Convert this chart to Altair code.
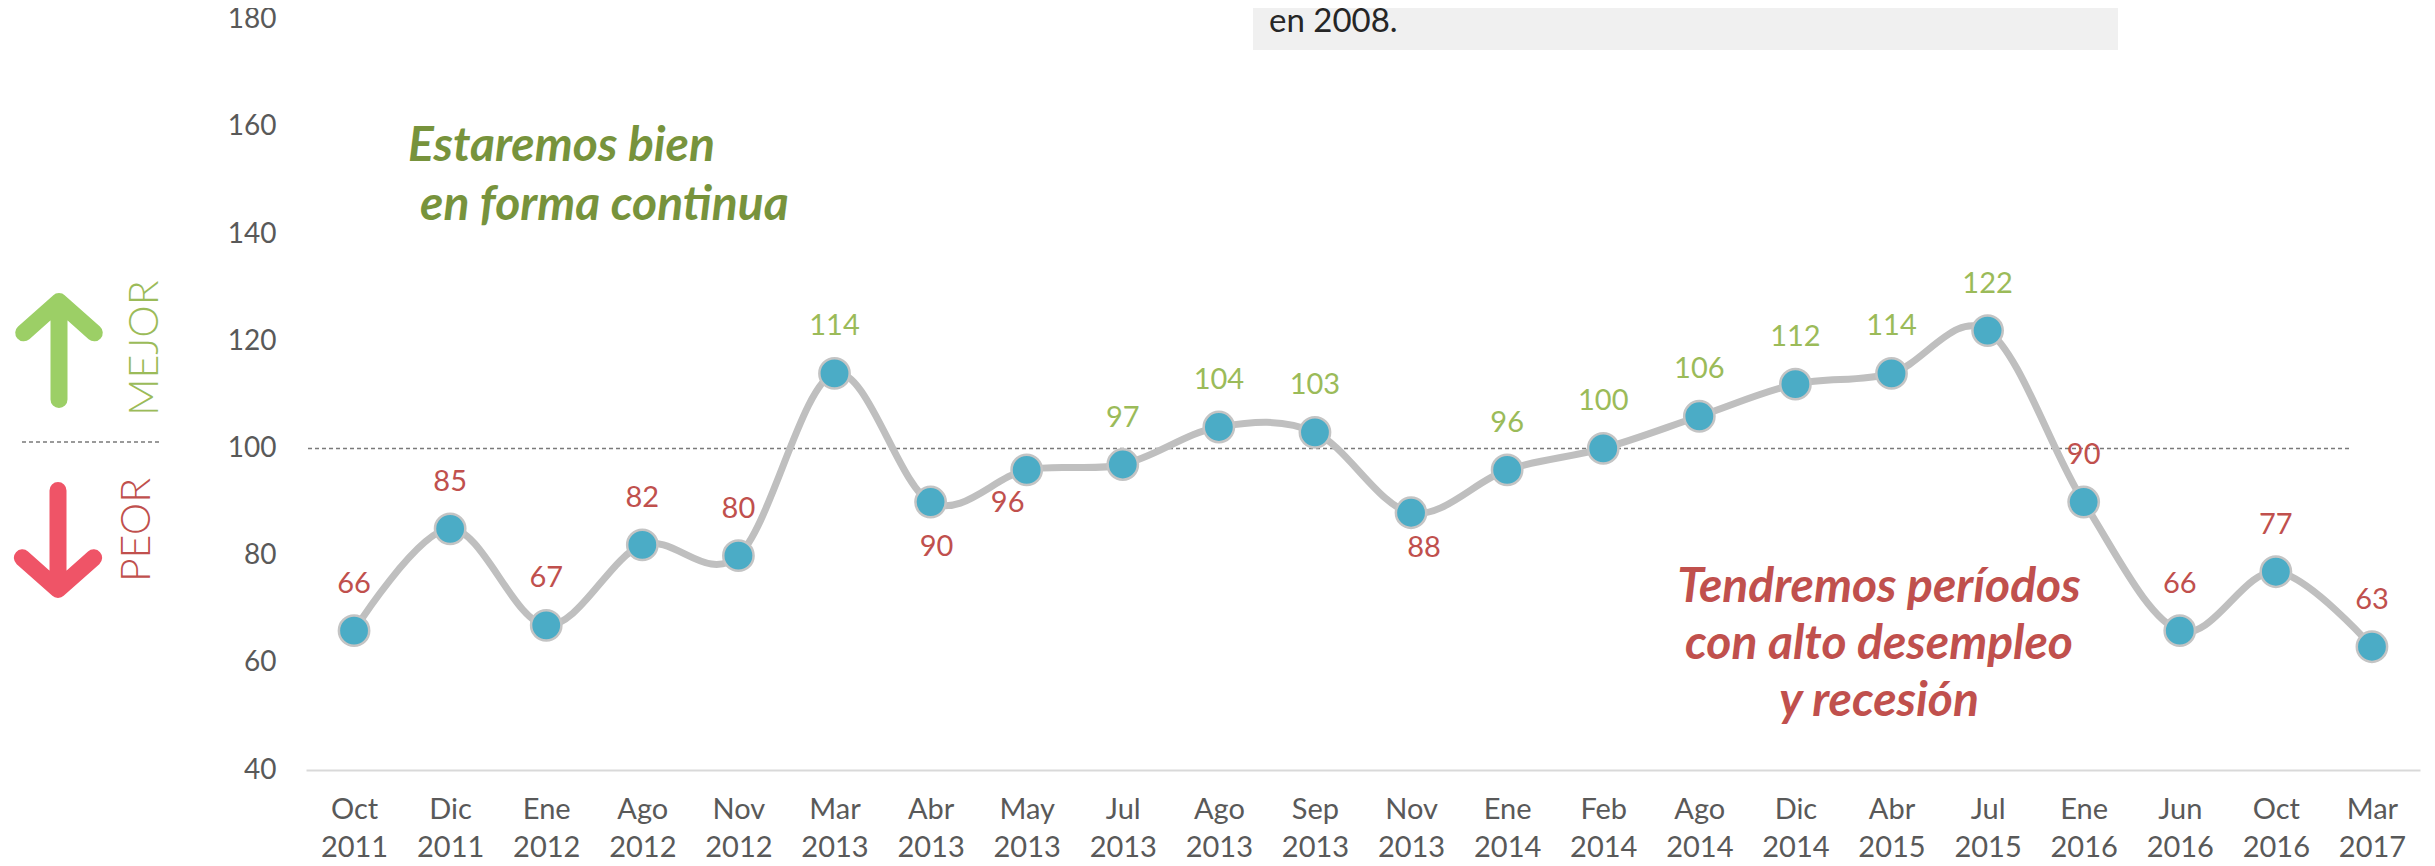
import altair as alt
import pandas as pd

# ---------------- data ----------------
categories = ["Oct 2011", "Dic 2011", "Ene 2012", "Ago 2012", "Nov 2012", "Mar 2013",
              "Abr 2013", "May 2013", "Jul 2013", "Ago 2013", "Sep 2013", "Nov 2013",
              "Ene 2014", "Feb 2014", "Ago 2014", "Dic 2014", "Abr 2015", "Jul 2015",
              "Ene 2016", "Jun 2016", "Oct 2016", "Mar 2017"]
values = [66, 85, 67, 82, 80, 114, 90, 96, 97, 104, 103, 88,
          96, 100, 106, 112, 114, 122, 90, 66, 77, 63]
tones = ["peor", "peor", "peor", "peor", "peor", "mejor", "peor", "peor", "mejor", "mejor",
         "mejor", "peor", "mejor", "mejor", "mejor", "mejor", "mejor", "mejor", "peor",
         "peor", "peor", "peor"]
y_ticks = [40, 60, 80, 100, 120, 140, 160, 180]
reference_level = 100
green_note_1 = "Estaremos bien"
green_note_2 = "en forma continua"
red_note = ["Tendremos períodos", "con alto desempleo", "y recesión"]
box_note = "en 2008."

df = pd.DataFrame({"periodo": categories, "indice": values, "tono": tones})
one = pd.DataFrame({"k": [0]})

FONT = "Lato"
GREEN_TXT = "#9BBB59"
RED_TXT = "#C0504D"
W, H = 2114, 761

x_enc = alt.X("periodo:O", sort=categories,
              scale=alt.Scale(type="point", padding=0.5),
              axis=alt.Axis(title=None, labelAngle=0, grid=False, ticks=False, tickSize=0,
                            domainColor="#D9D9D9", domainWidth=2, labelPadding=25,
                            labelFont=FONT, labelFontSize=29, labelColor="#595959",
                            labelExpr="split(datum.label, ' ')", labelLineHeight=38))
y_enc = alt.Y("indice:Q",
              scale=alt.Scale(domain=[40, 182], nice=False, zero=False),
              axis=alt.Axis(title=None, values=y_ticks, grid=False, ticks=False, tickSize=0,
                            domain=False, labelPadding=30, labelFont=FONT,
                            labelFontSize=28, labelColor="#595959"))

base = alt.Chart(df)

ref_line = alt.Chart(one).mark_rule(color="#7A7A7A", strokeWidth=1.5, strokeDash=[4, 3]).encode(
    y=alt.datum(reference_level), x=alt.value(2), x2=alt.value(2046))

line = base.mark_line(color="#BFBFBF", strokeWidth=7, interpolate="cardinal").encode(
    x=x_enc, y=y_enc)

points = base.mark_point(filled=True, fill="#4BACC6", stroke="#C4C4C4", strokeWidth=2.5,
                         size=920, opacity=1).encode(x=x_enc, y=y_enc)

label_color = alt.Color("tono:N", scale=alt.Scale(domain=["mejor", "peor"],
                                                  range=[GREEN_TXT, RED_TXT]), legend=None)

special = ["Abr 2013", "May 2013", "Nov 2013"]


def labels(filter_pred, dx, dy):
    return base.transform_filter(filter_pred).mark_text(
        font=FONT, fontSize=29, baseline="middle", align="center", dx=dx, dy=dy
    ).encode(x=x_enc, y=y_enc, text="indice:Q", color=label_color)


lab_above = labels(~alt.FieldOneOfPredicate(field="periodo", oneOf=special), 0, -47)
lab_abr = labels(alt.FieldEqualPredicate(field="periodo", equal="Abr 2013"), 6, 45)
lab_may = labels(alt.FieldEqualPredicate(field="periodo", equal="May 2013"), -19, 33)
lab_nov = labels(alt.FieldEqualPredicate(field="periodo", equal="Nov 2013"), 13, 35)

green_style = dict(font=FONT, fontSize=48, fontWeight="bold", fontStyle="italic",
                   color="#77933C", align="left", baseline="alphabetic")
green_text_1 = alt.Chart(one).mark_text(text=green_note_1, **green_style).encode(
    x=alt.value(102), y=alt.value(152))
green_text_2 = alt.Chart(one).mark_text(text=green_note_2, **green_style).encode(
    x=alt.value(114), y=alt.value(211))

red_text = alt.Chart(one).mark_text(
    text=red_note, font=FONT, fontSize=48, fontWeight="bold", fontStyle="italic",
    color=RED_TXT, align="center", baseline="alphabetic", lineHeight=57
).encode(x=alt.value(1573), y=alt.value(593))

box = alt.Chart(one).mark_rect(color="#F0F0F0").encode(
    x=alt.value(947), x2=alt.value(1812), y=alt.value(-1), y2=alt.value(41))
box_text = alt.Chart(one).mark_text(
    text=box_note, font=FONT, fontSize=33, color="#262626", align="left", baseline="alphabetic"
).encode(x=alt.value(963), y=alt.value(23))

up_path = "M0,1 L0,-1 M-0.72,-0.36 L0,-1 L0.72,-0.36"
down_path = "M0,-1 L0,1 M-0.72,0.36 L0,1 L0.72,0.36"
arrow_up = alt.Chart(one).mark_point(
    shape=up_path, size=9604, filled=False, stroke="#9CCF66", strokeWidth=17,
    strokeCap="round", strokeJoin="round", opacity=1
).encode(x=alt.value(-247), y=alt.value(341.5))
arrow_down = alt.Chart(one).mark_point(
    shape=down_path, size=9801, filled=False, stroke="#EF5467", strokeWidth=17,
    strokeCap="round", strokeJoin="round", opacity=1
).encode(x=alt.value(-248), y=alt.value(531))

side_line = alt.Chart(one).mark_rule(color="#7A7A7A", strokeWidth=1.5, strokeDash=[4, 3]).encode(
    x=alt.value(-284), x2=alt.value(-144), y=alt.value(433))

mejor = alt.Chart(one).mark_text(
    text="MEJOR", font=FONT, fontSize=41, fontWeight=300, color=GREEN_TXT,
    angle=270, align="center", baseline="middle"
).encode(x=alt.value(-160), y=alt.value(339))
peor = alt.Chart(one).mark_text(
    text="PEOR", font=FONT, fontSize=41, fontWeight=300, color=RED_TXT,
    angle=270, align="center", baseline="middle"
).encode(x=alt.value(-168), y=alt.value(521))

chart = alt.layer(
    box, box_text, ref_line, line, points, lab_above, lab_abr, lab_may, lab_nov,
    green_text_1, green_text_2, red_text, arrow_up, arrow_down, side_line, mejor, peor
).properties(
    width=W, height=H,
    padding={"left": 298, "top": 1, "right": 7, "bottom": 96},
    autosize=alt.AutoSizeParams(type="none"),
).configure_view(stroke=None)

chart.save("out.html", embed_options={"renderer": "svg", "actions": False})
